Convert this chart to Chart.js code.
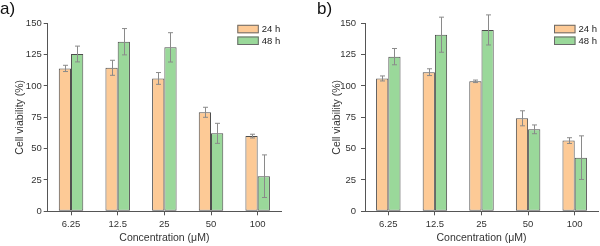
<!DOCTYPE html>
<html>
<head>
<meta charset="utf-8">
<script src="https://cdn.jsdelivr.net/npm/chart.js@4/dist/chart.umd.min.js"></script>
<style>
  html, body { margin: 0; padding: 0; background: #fff; }
  #wrap { position: relative; width: 600px; height: 246px; overflow: hidden; }
  .pane { position: absolute; top: 0; width: 300px; height: 246px; }
  .tag { position: absolute; top: -1px; font: 17px "Liberation Sans", Arial, sans-serif; color: #111; }
</style>
</head>
<body>
<div id="wrap">
  <div class="pane" style="left:0"><canvas id="ca" width="300" height="246"></canvas></div>
  <div class="pane" style="left:300px"><canvas id="cb" width="300" height="246"></canvas></div>
  <div class="tag" style="left:0px">a)</div>
  <div class="tag" style="left:317px">b)</div>
</div>
<script>
// ---- data ----
const categories = ['6.25', '12.5', '25', '50', '100'];
const seriesLabels = ['24 h', '48 h'];
const yTicks = [0, 25, 50, 75, 100, 125, 150];

const a24 = [114, 114.5, 106, 79, 60];
const a24err = [2.5, 6, 4.7, 4, 1.5];
const a48 = [125.5, 135.3, 130.8, 62.2, 28];
const a48err = [6.3, 10.5, 11.7, 8, 17];

const b24 = [106, 111, 103.7, 74.2, 56.4];
const b24err = [2, 2.7, 1, 6, 2.3];
const b48 = [123.4, 140.9, 144.7, 65.4, 42.8];
const b48err = [6.5, 14, 12, 3.5, 17.4];

const xTitle = 'Concentration (\u03bcM)';
const yTitle = 'Cell viability (%)';

// ---- styling ----
const FONT = '"Liberation Sans", Arial, sans-serif';
const C24 = '#FDCA96';
const C48 = '#9AD89A';
const EDGE = '#4d4d4d';
const AXIS = '#555555';

const errorBars = {
  id: 'errorBars',
  afterDatasetsDraw(chart) {
    const ctx = chart.ctx;
    const y = chart.scales.y;
    ctx.save();
    ctx.strokeStyle = '#8a8a8a';
    ctx.lineWidth = 1;
    chart.data.datasets.forEach((ds, di) => {
      const meta = chart.getDatasetMeta(di);
      meta.data.forEach((bar, i) => {
        const e = ds.errors[i];
        const v = ds.data[i];
        const x = Math.round(bar.x) + 0.5;
        const yt = y.getPixelForValue(v + e);
        const yb = y.getPixelForValue(v - e);
        ctx.beginPath();
        ctx.moveTo(x, yt); ctx.lineTo(x, yb);
        ctx.moveTo(x - 2.5, yt); ctx.lineTo(x + 2.5, yt);
        ctx.moveTo(x - 2.5, yb); ctx.lineTo(x + 2.5, yb);
        ctx.stroke();
      });
    });
    ctx.restore();
  }
};

const boxLegend = {
  id: 'boxLegend',
  afterDraw(chart) {
    const ctx = chart.ctx;
    const area = chart.chartArea;
    const o = chart.options.plugins.boxLegend;
    ctx.save();
    ctx.font = '9.5px ' + FONT;
    ctx.textBaseline = 'middle';
    ctx.textAlign = 'left';
    chart.data.datasets.forEach((ds, i) => {
      const bx = area.right - o.offsetRight;
      const by = area.top + 1.5 + i * 11.7;
      ctx.fillStyle = ds.backgroundColor;
      ctx.fillRect(bx, by, 21.5, 8.5);
      ctx.strokeStyle = '#6a6a6a';
      ctx.lineWidth = 1;
      ctx.strokeRect(bx + 0.5, by + 0.5, 20.5, 7.5);
      ctx.fillStyle = '#222';
      ctx.fillText(ds.label, bx + 24.5, by + 4.6);
    });
    ctx.restore();
  }
};

function makeChart(id, d24, e24, d48, e48, cfg) {
  return new Chart(document.getElementById(id), {
    type: 'bar',
    data: {
      labels: categories,
      datasets: [
        { label: seriesLabels[0], data: d24, errors: e24, backgroundColor: C24,
          borderColor: EDGE, borderWidth: 1, borderSkipped: false },
        { label: seriesLabels[1], data: d48, errors: e48, backgroundColor: C48,
          borderColor: EDGE, borderWidth: 1, borderSkipped: false }
      ]
    },
    options: {
      responsive: false,
      animation: false,
      maintainAspectRatio: false,
      layout: { padding: { left: 0, right: cfg.padRight, top: 23.3, bottom: 0 } },
      datasets: { bar: { categoryPercentage: 0.525, barPercentage: 1 } },
      plugins: {
        legend: { display: false },
        tooltip: { enabled: false },
        boxLegend: { offsetRight: cfg.legendOff }
      },
      scales: {
        x: {
          offset: true,
          grid: { display: true, drawOnChartArea: false, drawTicks: true, tickLength: 4,
                  color: AXIS, offset: false },
          border: { display: true, color: AXIS, width: 1 },
          ticks: { color: '#333', font: { family: FONT, size: 9.5 }, padding: 3, maxRotation: 0 },
          title: { display: true, text: xTitle, color: '#333',
                   font: { family: FONT, size: 10.5 }, padding: { top: 0, bottom: 1.5 } },
          afterFit(s) { s.height = 34.7; }
        },
        y: {
          min: 0, max: 150,
          afterBuildTicks(s) { s.ticks = yTicks.map(v => ({ value: v })); },
          grid: { display: true, drawOnChartArea: false, drawTicks: true, tickLength: 4,
                  color: AXIS },
          border: { display: true, color: AXIS, width: 1 },
          ticks: { color: '#333', font: { family: FONT, size: 9.5 }, padding: cfg.yPad },
          title: { display: true, text: yTitle, color: '#333',
                   font: { family: FONT, size: 10.5 }, padding: { top: cfg.yTitlePad, bottom: 0 } },
          afterFit(s) { s.width = cfg.yWidth; }
        }
      }
    },
    plugins: [errorBars, boxLegend]
  });
}

makeChart('ca', a24, a24err, a48, a48err,
  { padRight: 19, yWidth: 47.7, yPad: 2, yTitlePad: 13.7, legendOff: 43.7 });
makeChart('cb', b24, b24err, b48, b48err,
  { padRight: 2, yWidth: 65, yPad: 5, yTitlePad: 30.4, legendOff: 44 });
</script>
</body>
</html>
